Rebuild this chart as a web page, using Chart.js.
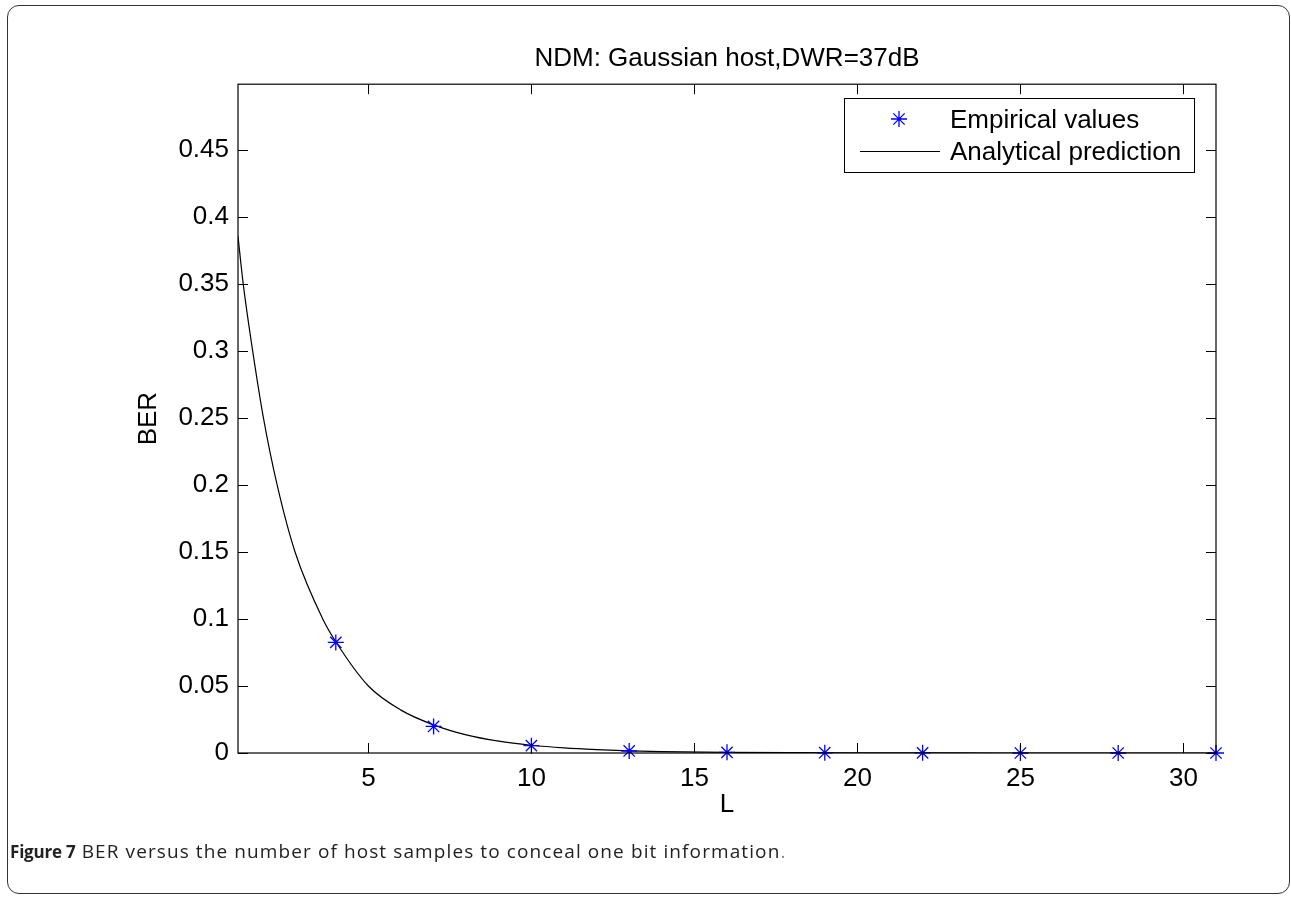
<!DOCTYPE html>
<html>
<head>
<meta charset="utf-8">
<script src="https://cdn.jsdelivr.net/npm/chart.js@4/dist/chart.umd.min.js"></script>
<style>
  body { margin: 0; background: #fff; }
  .wrap { position: relative; width: 1291px; height: 897px; overflow: hidden; }
  .frame { position: absolute; left: 7px; top: 5px; width: 1283px; height: 889px;
    border: 1.5px solid #333; border-radius: 12px; box-sizing: border-box; }
  .caption { position: absolute; left: 10px; top: 838px; font-family: "Open Sans", "Noto Sans", sans-serif;
    font-size: 19px; color: #222; white-space: nowrap; letter-spacing: 1.1px; }
  .caption b { font-size: 17px; letter-spacing: -0.2px; }
  canvas { position: absolute; left: 0; top: 0; }
</style>
</head>
<body>
<div class="wrap">
  <div class="frame"></div>
  <canvas id="c" width="1291" height="897"></canvas>
  <div class="caption"><b>Figure 7</b> BER versus the number of host samples to conceal one bit information<span style="color:#888">.</span></div>
</div>
<script>
// empirical points (blue asterisks)
const empL   = [4, 7, 10, 13, 16, 19, 22, 25, 28, 31];
const empBER = [0.0825, 0.0198, 0.0055, 0.0015, 0.0005, 0.0002, 0.0001, 0, 0, 0];

// analytical curve
const anaL   = [1, 1.16, 1.45, 1.78, 2.2, 2.75, 3.6, 4, 5, 6, 7, 8, 9, 10, 11, 12, 13, 14, 16, 18, 20, 23, 26, 31];
const anaBER = [0.3855, 0.35, 0.30, 0.25, 0.20, 0.15, 0.10, 0.083, 0.05, 0.032, 0.021, 0.0135, 0.0088, 0.0058,
                0.0038, 0.0025, 0.0016, 0.0011, 0.0005, 0.00022, 0.0001, 0.00003, 0.00001, 0];

const xTicks = [5, 10, 15, 20, 25, 30];
const yTicks = [0, 0.05, 0.1, 0.15, 0.2, 0.25, 0.3, 0.35, 0.4, 0.45];

const FONT = "Liberation Sans, Arial, Helvetica, sans-serif";

// box around the axes + inward ticks on all four sides (matlab style)
const axesBox = {
  id: "axesBox",
  afterDraw(chart) {
    const { ctx, chartArea: a, scales } = chart;
    ctx.save();
    ctx.strokeStyle = "#000";
    ctx.lineWidth = 1.2;
    ctx.strokeRect(a.left, a.top, a.right - a.left, a.bottom - a.top);
    ctx.lineWidth = 1;
    ctx.beginPath();
    scales.x.ticks.forEach(t => {
      const px = Math.round(scales.x.getPixelForValue(t.value)) + 0.5;
      ctx.moveTo(px, a.bottom); ctx.lineTo(px, a.bottom - 10);
      ctx.moveTo(px, a.top); ctx.lineTo(px, a.top + 10);
    });
    scales.y.ticks.forEach(t => {
      const py = Math.round(scales.y.getPixelForValue(t.value)) + 0.5;
      ctx.moveTo(a.left, py); ctx.lineTo(a.left + 10, py);
      ctx.moveTo(a.right, py); ctx.lineTo(a.right - 10, py);
    });
    ctx.stroke();
    ctx.restore();
  }
};

// boxed legend in upper right
const boxLegend = {
  id: "boxLegend",
  afterDraw(chart) {
    const ctx = chart.ctx;
    const ds = chart.data.datasets;
    const x0 = 844, y0 = 98, w = 350, h = 74;
    ctx.save();
    ctx.fillStyle = "#fff";
    ctx.fillRect(x0, y0, w, h);
    ctx.strokeStyle = "#000";
    ctx.lineWidth = 1;
    ctx.strokeRect(x0 + 0.5, y0 + 0.5, w, h);
    ctx.font = "26px " + FONT;
    ctx.fillStyle = "#000";
    ctx.textBaseline = "middle";
    // entry 1: asterisk
    ctx.strokeStyle = ds[1].borderColor;
    ctx.lineWidth = 1.3;
    Chart.helpers.drawPoint(ctx, { pointStyle: "star", radius: 8, borderWidth: 1.3, rotation: 0 }, 899, 119);
    ctx.fillText(ds[1].label, 950, 121);
    // entry 2: line
    ctx.strokeStyle = "#000";
    ctx.lineWidth = 1;
    ctx.beginPath();
    ctx.moveTo(860, 151.5); ctx.lineTo(940, 151.5);
    ctx.stroke();
    ctx.fillText(ds[0].label, 950, 153);
    ctx.restore();
  }
};

new Chart(document.getElementById("c"), {
  type: "scatter",
  data: {
    datasets: [
      {
        label: "Analytical prediction",
        data: anaL.map((l, i) => ({ x: l, y: anaBER[i] })),
        showLine: true,
        borderColor: "#000",
        borderWidth: 1.2,
        pointRadius: 0,
        cubicInterpolationMode: "monotone",
        order: 2
      },
      {
        label: "Empirical values",
        data: empL.map((l, i) => ({ x: l, y: empBER[i] })),
        pointStyle: "star",
        pointRadius: 8,
        pointBorderWidth: 1.3,
        borderColor: "#0000ff",
        backgroundColor: "#0000ff",
        clip: false,
        order: 1
      }
    ]
  },
  options: {
    responsive: false,
    animation: false,
    devicePixelRatio: 1,
    layout: { padding: { left: 0, right: 75, top: 0, bottom: 0 } },
    plugins: {
      legend: { display: false },
      tooltip: { enabled: false },
      title: {
        display: true,
        fullSize: false,
        text: "NDM: Gaussian host,DWR=37dB",
        color: "#000",
        font: { family: FONT, size: 26, weight: "normal", lineHeight: 1.2 },
        padding: { top: 43, bottom: 10 }
      }
    },
    scales: {
      x: {
        type: "linear",
        min: 1,
        max: 31,
        grid: { display: false },
        border: { display: false },
        afterBuildTicks: s => { s.ticks = xTicks.map(v => ({ value: v })); },
        afterFit: s => { s.height = 144; },
        ticks: { color: "#000", padding: 2, maxRotation: 0, font: { family: FONT, size: 26 } },
        title: { display: true, text: "L", color: "#000", font: { family: FONT, size: 26, lineHeight: 1.2 }, padding: { bottom: 77 } }
      },
      y: {
        min: 0,
        max: 0.499,
        grid: { display: false },
        border: { display: false },
        afterBuildTicks: s => { s.ticks = yTicks.map(v => ({ value: v })); },
        afterFit: s => { s.width = 238; },
        ticks: {
          color: "#000", padding: 1, font: { family: FONT, size: 26 },
          callback: v => String(+v.toFixed(2))
        },
        title: { display: true, text: "BER", color: "#000", font: { family: FONT, size: 26, lineHeight: 1.2 }, padding: { top: 133 } }
      }
    }
  },
  plugins: [axesBox, boxLegend]
});
</script>
</body>
</html>
